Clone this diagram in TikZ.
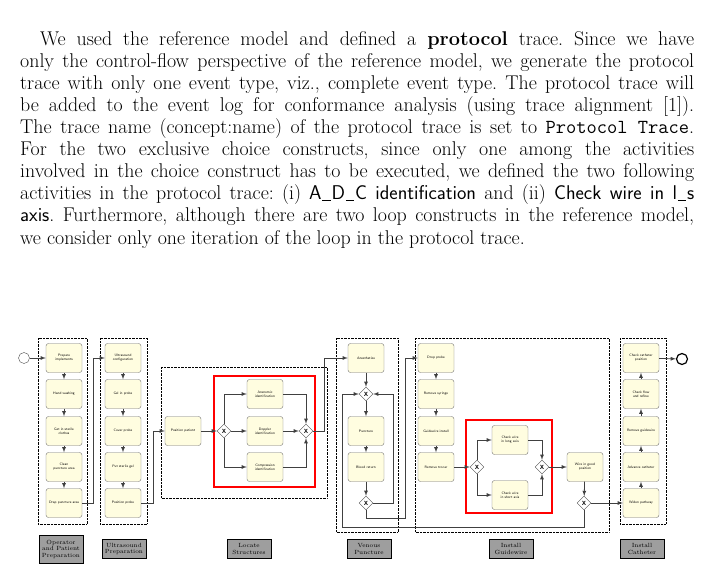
\documentclass[tikz,border=0pt]{standalone}
\usepackage{tikz}
\usetikzlibrary{arrows,shapes.geometric}
\newcommand{\usc}{\kern0.04em\rule[-0.3pt]{0.42em}{0.6pt}\kern0.04em}

\begin{document}
\begin{tikzpicture}[x=1pt,y=-1pt,>=latex,
  task/.style={rectangle,rounded corners=2.5pt,draw=black!55,fill=yellow!12,minimum width=36pt,minimum height=29pt,text width=30pt,align=center,inner sep=0pt,font=\sffamily\fontsize{3.5}{4}\selectfont,execute at begin node={\hyphenpenalty=10000\relax}},
  gw/.style={diamond,draw=black!70,fill=white,minimum size=14pt,inner sep=0pt,font=\sffamily\bfseries\fontsize{6}{6}\selectfont},
  grp/.style={draw,densely dotted,thin},
  lbl/.style={rectangle,draw,fill=black!38,thick,align=center,inner sep=1.5pt,font=\fontsize{6}{6.5}\selectfont},
  flow/.style={->,draw=black!75,line width=0.8pt},
  hilite/.style={draw=red,line width=2.8pt}]
  \useasboundingbox (0,0) rectangle (704,570);

  \node[anchor=north west,inner sep=0pt,text width=674pt,align=justify,font=\fontsize{19.9}{22.1}\selectfont\frenchspacing] (para) at (20,31) {%
    \hspace*{20pt}We used the reference model and defined a \textbf{protocol} trace. Since we have\linebreak
    only the control-flow perspective of the reference model, we generate the protocol\linebreak
    trace with only one event type, viz., complete event type. The protocol trace will\linebreak
    be added to the event log for conformance analysis (using trace alignment [1]).\linebreak
    The trace name (concept:name) of the protocol trace is set to \texttt{Protocol Trace}.\linebreak
    For the two exclusive choice constructs, since only one among the activities\linebreak
    involved in the choice construct has to be executed, we defined the two following\linebreak
    activities in the protocol trace: (i) \textsf{A\usc D\usc C identification} and (ii) \textsf{Check wire in l\usc s}\linebreak
    \textsf{axis}. Furthermore, although there are two loop constructs in the reference model,\linebreak
    we consider only one iteration of the loop in the protocol trace.};

  % groups
  \draw[grp] (38,338) rectangle (87,524);
  \draw[grp] (100,338) rectangle (147,524);
  \draw[grp] (161,367) rectangle (327,498);
  \draw[grp] (336,338) rectangle (398,532);
  \draw[grp] (415,338) rectangle (609,532);
  \draw[grp] (620,338) rectangle (666,524);
  \draw[hilite] (214,376) rectangle (315,487);
  \draw[hilite] (466,420) rectangle (552,513);

  % events
  \node[circle,draw=black!70,minimum size=11pt,inner sep=0pt] (start) at (24,358) {};
  \node[circle,draw,line width=1.2pt,minimum size=11pt,inner sep=0pt] (end) at (682,359) {};

  % operator and patient preparation
  \node[task] (pi) at (64,358) {Prepare implements};
  \node[task] (hw) at (64,394) {Hand washing};
  \node[task] (sc) at (64,431) {Get in sterile clothes};
  \node[task] (cp) at (64,467) {Clean puncture area};
  \node[task] (dpa) at (64,503) {Drap puncture area};
  % ultrasound preparation
  \node[task] (uc) at (123,358) {Ultrasound configuration};
  \node[task] (gp) at (123,394) {Gel in probe};
  \node[task] (cvp) at (123,431) {Cover probe};
  \node[task] (sg) at (123,467) {Put sterile gel};
  \node[task] (pp) at (123,503) {Position probe};
  % locate structures
  \node[task] (ppt) at (183,431) {Position patient};
  \node[gw] (g1) at (224,431) {X};
  \node[task] (ai) at (265,394) {Anatomic identification};
  \node[task] (di) at (265,431) {Doppler identification};
  \node[task] (ci) at (265,467) {Compression identification};
  \node[gw] (g2) at (306,431) {X};
  % venous puncture
  \node[task] (an) at (366,358) {Anesthetize};
  \node[gw] (g3) at (366,394) {X};
  \node[task] (pu) at (366,431) {Puncture};
  \node[task] (br) at (366,467) {Blood return};
  \node[gw] (g4) at (366,503) {X};
  % install guidewire
  \node[task] (dp) at (436,358) {Drop probe};
  \node[task] (rs) at (436,394) {Remove syringe};
  \node[task] (gi) at (436,431) {Guidewire install};
  \node[task] (rt) at (436,467) {Remove trocar};
  \node[gw] (g5) at (477,467) {X};
  \node[task] (la) at (510,440) {Check wire in long axis};
  \node[task] (sa) at (510,495) {Check wire in short axis};
  \node[gw] (g6) at (542,467) {X};
  \node[task] (wg) at (585,467) {Wire in good position};
  \node[gw] (g7) at (584,503) {X};
  % install catheter
  \node[task] (ccp) at (641,358) {Check catheter position};
  \node[task] (cfr) at (641,394) {Check flow and reflow};
  \node[task] (rg) at (641,431) {Remove guidewire};
  \node[task] (ac) at (641,467) {Advance catheter};
  \node[task] (wp) at (641,503) {Widen pathway};

  % labels
  \node[lbl,minimum width=44pt,minimum height=28pt] (l1) at (61,549) {Operator\\and Patient\\Preparation};
  \node[lbl,minimum width=44pt,minimum height=19pt] (l2) at (124,549) {Ultrasound\\Preparation};
  \node[lbl,minimum width=44pt,minimum height=19pt] (l3) at (249,549) {Locate\\Structures};
  \node[lbl,minimum width=44pt,minimum height=19pt] (l4) at (369,549) {Venous\\Puncture};
  \node[lbl,minimum width=44pt,minimum height=19pt] (l5) at (511,549) {Install\\Guidewire};
  \node[lbl,minimum width=44pt,minimum height=19pt] (l6) at (642,549) {Install\\Catheter};

  % flows
  \draw[flow] (start) -- (pi);
  \foreach \a/\b in {pi/hw,hw/sc,sc/cp,cp/dpa,uc/gp,gp/cvp,cvp/sg,sg/pp,an/g3,g3/pu,pu/br,br/g4,dp/rs,rs/gi,gi/rt,wp/ac,ac/rg,rg/cfr,cfr/ccp,wg/g7}
    \draw[flow] (\a) -- (\b);
  \draw[flow] (dpa.east) -- ++(11,0) |- (uc.west);
  \draw[flow] (pp.east) -- ++(12,0) |- (ppt.west);
  \draw[flow] (ppt) -- (g1);
  \draw[flow] (g1.north) |- (ai.west);
  \draw[flow] (g1) -- (di);
  \draw[flow] (g1.south) |- (ci.west);
  \draw[flow] (ai.east) -| (g2.north);
  \draw[flow] (di) -- (g2);
  \draw[flow] (ci.east) -| (g2.south);
  \draw[flow] (g2.east) -- ++(11,0) |- (an.west);
  \draw[flow] (g4.east) -- ++(20,0) |- (g3.east);
  \draw[flow] (g4.south) |- (405,518) |- (dp.west);
  \draw[flow] (g7.south) |- (342,527) |- (g3.west);
  \draw[flow] (rt) -- (g5);
  \draw[flow] (g5.north) |- (la.west);
  \draw[flow] (g5.south) |- (sa.west);
  \draw[flow] (la.east) -| (g6.north);
  \draw[flow] (sa.east) -| (g6.south);
  \draw[flow] (g6) -- (wg);
  \draw[flow] (g7) -- (wp);
  \draw[flow] (ccp) -- (end);
\end{tikzpicture}
\end{document}
